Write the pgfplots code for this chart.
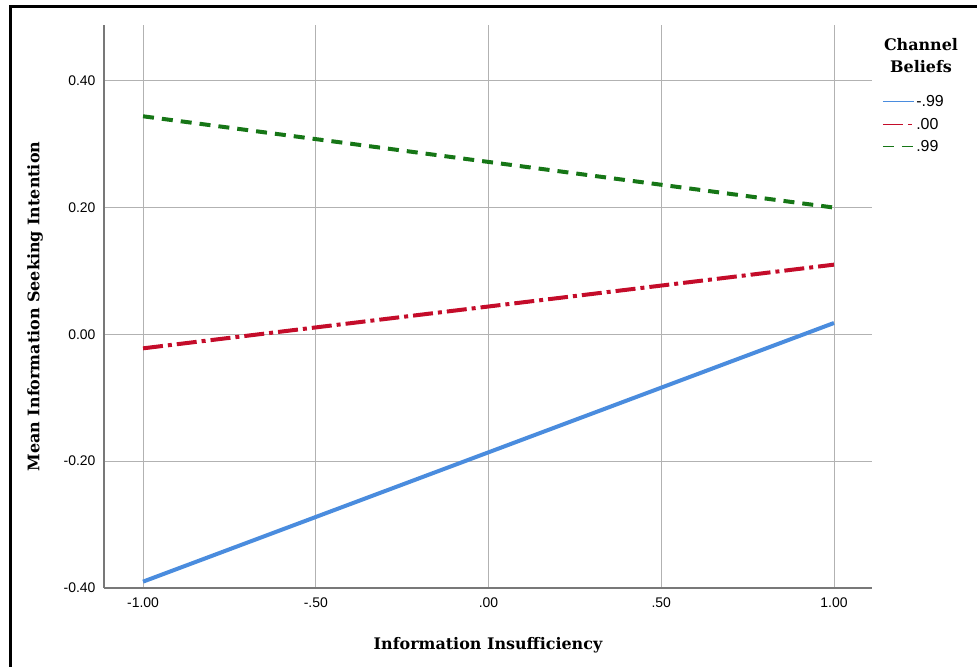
\documentclass[border=0pt]{standalone}
\usepackage{fontspec}
\usepackage{pgfplots}
\pgfplotsset{compat=1.18}
\setmainfont{Liberation Sans}
\newfontfamily\labfont{DejaVu Serif}
\definecolor{cblue}{RGB}{74,140,222}
\definecolor{cred}{RGB}{196,12,42}
\definecolor{cgreen}{RGB}{22,118,22}
\definecolor{gridc}{RGB}{178,178,178}
\definecolor{axc}{RGB}{120,120,120}
\begin{document}
\begin{tikzpicture}[x=1bp,y=1bp]
\useasboundingbox (0,0) rectangle (977,667);
\draw[black, line width=3bp] (10,0) -- (10,660) -- (977,660);
\begin{axis}[
  at={(104bp,79bp)}, anchor=south west,
  scale only axis, width=768bp, height=563bp,
  xmin=-1.113, xmax=1.11, ymin=-0.4, ymax=0.488,
  axis x line=bottom, axis y line=left,
  axis line style={-, draw=axc, line width=1.3bp},
  xtick={-1,-0.5,0,0.5,1},
  xticklabels={-1.00,-.50,.00,.50,1.00},
  ytick={-0.4,-0.2,0,0.2,0.4},
  yticklabels={-0.40,-0.20,0.00,0.20,0.40},
  major tick length=0pt,
  grid=major,
  major grid style={draw=gridc, line width=1bp},
  tick label style={font=\fontsize{14}{16}\selectfont},
  xticklabel style={yshift=-6bp},
  yticklabel style={xshift=-5bp},
  xlabel={\labfont\bfseries Information Insufficiency},
  ylabel={\labfont\bfseries Mean Information Seeking Intention},
  xlabel style={font=\fontsize{16}{18}\selectfont, at={(axis description cs:0.5,0)}, anchor=center, yshift=-57bp},
  ylabel style={font=\fontsize{16}{18}\selectfont, at={(axis description cs:0,0.5)}, anchor=center, yshift=69bp},
  legend style={at={(axis description cs:1.013,0.879)}, anchor=north west, draw=none, fill=none,
    font=\fontsize{16}{18}\selectfont, inner sep=0pt, row sep=6bp,
    /tikz/every even column/.append style={column sep=5bp}},
  legend cell align=left,
  legend image code/.code={\draw[#1] (0bp,0bp) -- (31bp,0bp);},
  legend image post style={line width=1.1bp},
  clip=false,
]
\addplot[cblue, line width=4bp] coordinates {(-1,-0.39) (1,0.018)};
\addlegendentry{-.99}
\addplot[cred, line width=4bp, dash pattern=on 20bp off 5bp on 4bp off 5bp] coordinates {(-1,-0.022) (1,0.11)};
\addlegendentry{.00}
\addplot[cgreen, line width=4bp, dash pattern=on 11bp off 8bp] coordinates {(-1,0.344) (1,0.200)};
\addlegendentry{.99}
\end{axis}
\node[font=\labfont\bfseries\fontsize{16}{22}\selectfont, align=center, anchor=center] at (921,611) {Channel\\Beliefs};
\end{tikzpicture}
\end{document}
